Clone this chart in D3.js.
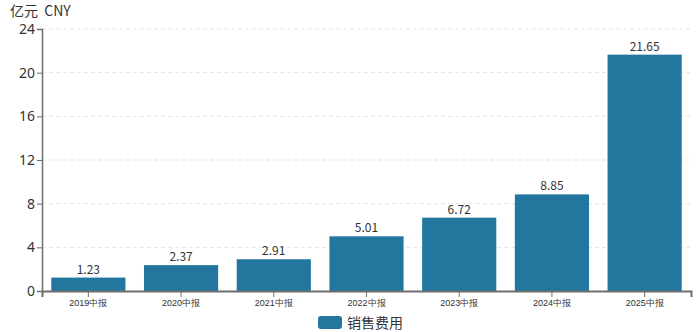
<!DOCTYPE html>
<html>
<head>
<meta charset="utf-8">
<script src="https://cdn.jsdelivr.net/npm/d3@7/dist/d3.min.js"></script>
<style>
  html, body { margin: 0; padding: 0; background: #fff; }
  svg { display: block; font-family: "Noto Sans CJK SC", "Noto Sans", sans-serif; }
</style>
</head>
<body>
<svg id="chart" width="700" height="332"></svg>
<script>
// Half-year selling expenses, 100 million CNY
const periods = ["2019中报", "2020中报", "2021中报", "2022中报", "2023中报", "2024中报", "2025中报"];
const sellingExpense = [1.23, 2.37, 2.91, 5.01, 6.72, 8.85, 21.65];
const yTicks = [0, 4, 8, 12, 16, 20, 24];
const unitLabel = "亿元\u00a0\u00a0CNY";
const seriesName = "销售费用";

const barColor = "#23779f";
const axisColor = "#6e6e6e";

const svg = d3.select("#chart");
const margin = { top: 29, right: 9, bottom: 41, left: 42 };
const W = 700, H = 332;
const innerW = W - margin.left - margin.right;
const innerH = H - margin.top - margin.bottom;

const g = svg.append("g").attr("transform", `translate(${margin.left},${margin.top})`);

const x = d3.scaleBand().domain(periods).range([0, innerW]).paddingInner(0.2).paddingOuter(0.1);
const y = d3.scaleLinear().domain([0, 24]).range([innerH, 0]);

// dashed horizontal grid
g.append("g")
  .selectAll("line")
  .data(yTicks.filter(t => t > 0))
  .join("line")
  .attr("x1", 0).attr("x2", innerW)
  .attr("y1", d => y(d)).attr("y2", d => y(d))
  .attr("stroke", "#e3e3e3")
  .attr("stroke-dasharray", "4,3");

// bars
g.append("g")
  .selectAll("rect")
  .data(periods)
  .join("rect")
  .attr("x", d => x(d))
  .attr("width", x.bandwidth())
  .attr("y", (d, i) => y(sellingExpense[i]))
  .attr("height", (d, i) => innerH - y(sellingExpense[i]))
  .attr("fill", barColor);

// value labels
g.append("g")
  .selectAll("text")
  .data(periods)
  .join("text")
  .attr("x", d => x(d) + x.bandwidth() / 2)
  .attr("y", (d, i) => y(sellingExpense[i]) - 4)
  .attr("text-anchor", "middle")
  .attr("font-size", 12)
  .attr("fill", "#333")
  .text((d, i) => sellingExpense[i].toFixed(2));

// y axis
const yAxis = g.append("g")
  .call(d3.axisLeft(y).tickValues(yTicks).tickSize(5).tickPadding(2));
yAxis.select(".domain").attr("stroke", axisColor).attr("stroke-width", 1.5);
yAxis.selectAll(".tick line").attr("stroke", axisColor);
yAxis.selectAll(".tick text").attr("font-size", 14).attr("fill", "#333")
  .attr("font-family", "'Noto Sans', sans-serif");

// x axis
const xAxis = g.append("g")
  .attr("transform", `translate(0,${innerH})`)
  .call(d3.axisBottom(x).tickSizeOuter(0).tickSize(6).tickPadding(3));
xAxis.select(".domain").attr("stroke", axisColor).attr("stroke-width", 2);
xAxis.selectAll(".tick line").attr("stroke", axisColor);
xAxis.selectAll(".tick text").attr("font-size", 9).attr("fill", "#333");

// unit label
svg.append("text")
  .attr("x", 10).attr("y", 16)
  .attr("font-size", 14)
  .attr("fill", "#333")
  .text(unitLabel);

// legend
const legend = svg.append("g").attr("transform", "translate(318,316)");
legend.append("rect")
  .attr("width", 24).attr("height", 13).attr("rx", 3)
  .attr("fill", barColor);
legend.append("text")
  .attr("x", 29).attr("y", 11.5)
  .attr("font-size", 14)
  .attr("fill", "#333")
  .text(seriesName);
</script>
</body>
</html>
